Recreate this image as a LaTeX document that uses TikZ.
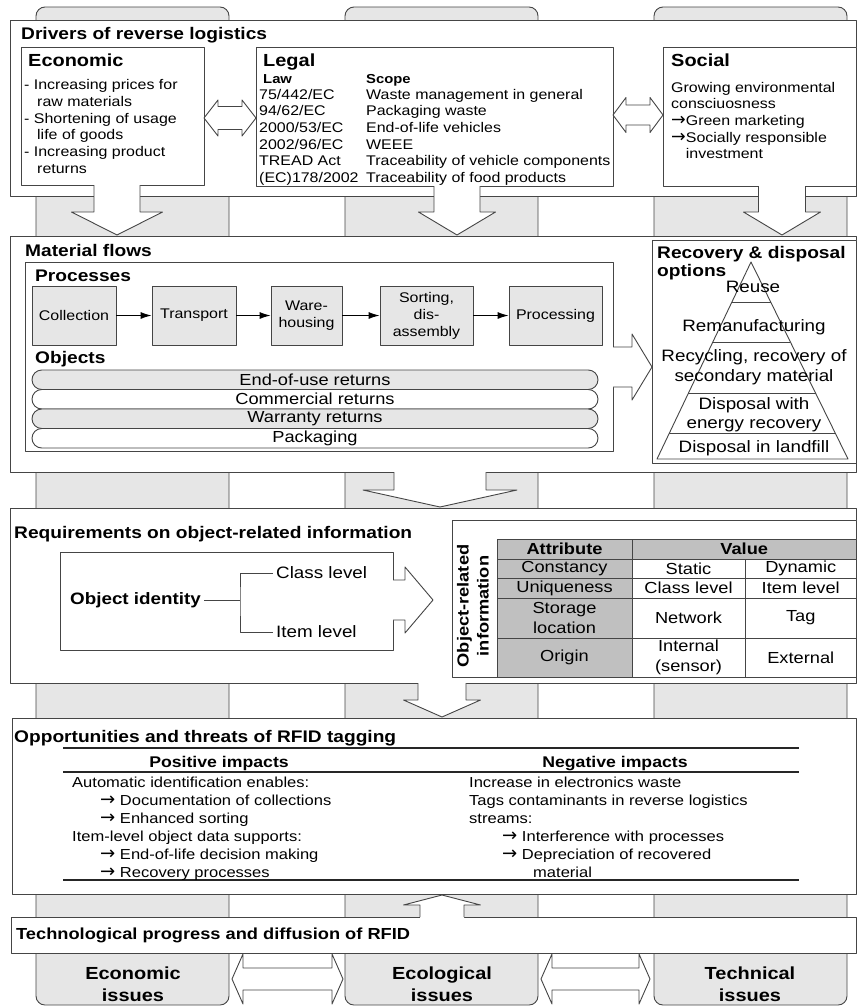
\documentclass[tikz,border=0pt]{standalone}
\usepackage{fontspec}
\setmainfont{Liberation Sans}[FakeStretch=1.14]
\newfontfamily\arrowfont{DejaVu Sans}[Scale=1.25]
\usetikzlibrary{arrows.meta,calc}

\definecolor{pillargray}{HTML}{E6E6E6}
\definecolor{cellgray}{HTML}{C0C0C0}
\definecolor{linegray}{HTML}{454545}

\newcommand\fsz[2]{\fontsize{#1}{#2}\selectfont}
\newcommand\rarr{{\arrowfont →}}

% hollow block arrow: tip, direction, length, shaft half, head half, head length
\newcommand\blockarrow[6]{%
  \begin{scope}[shift={(#1)}, rotate=#2, x=1pt, y=1pt]
    \fill[white] (-#3-1,-#4) -- (-#6,-#4) -- (-#6,-#5) -- (0,0)
      -- (-#6,#5) -- (-#6,#4) -- (-#3-1,#4) -- cycle;
    \draw[outline] (-#3,-#4) -- (-#6,-#4) -- (-#6,-#5) -- (0,0)
      -- (-#6,#5) -- (-#6,#4) -- (-#3,#4);
  \end{scope}}

% hollow double arrow: centre, half length, shaft half, head half, head length
\newcommand\twinarrow[5]{%
  \begin{scope}[shift={(#1)}, x=1pt, y=1pt]
    \filldraw[outline, fill=white] (-#2,0) -- (-#2+#5,#4) -- (-#2+#5,#3)
      -- (#2-#5,#3) -- (#2-#5,#4) -- (#2,0) -- (#2-#5,-#4) -- (#2-#5,-#3)
      -- (-#2+#5,-#3) -- (-#2+#5,-#4) -- cycle;
  \end{scope}}

\begin{document}
\begin{tikzpicture}[x=1pt, y=-1pt, line join=round,
  outline/.style={draw=linegray, line width=0.9pt},
  pillar/.style={outline, fill=pillargray, rounded corners=9pt},
  frame/.style={outline, fill=white, anchor=north west, inner sep=0pt, outer sep=0pt},
  title/.style={anchor=base west, inner sep=0pt, font=\bfseries\fsz{16.8}{19}},
  head/.style={anchor=base west, inner sep=0pt, font=\bfseries\fsz{17.5}{20}},
  txt/.style={anchor=north west, inner sep=0pt, font=\fsz{14}{16.7}},
  proc/.style={outline, fill=pillargray, minimum height=59pt, inner sep=0pt, align=center, font=\fsz{14}{17}},
  flow/.style={outline, draw=black, -{Latex[length=11pt,width=7pt]}},
  bar/.style={outline, rounded corners=9.75pt, minimum width=566pt, minimum height=19.5pt, inner sep=0pt, font=\fsz{16}{19}},
  pyr/.style={align=center, inner sep=0pt, font=\fsz{16.5}{19.5}},
  lvl/.style={anchor=west, inner xsep=3pt, inner ysep=0pt, font=\fsz{16.5}{19}},
  cell/.style={align=center, inner sep=0pt, font=\fsz{16}{20}},
  rule/.style={draw=black!85, line width=1.4pt},
  issue/.style={align=center, inner sep=0pt, font=\bfseries\fsz{17.5}{22}}
  ]
  \useasboundingbox (0,0) rectangle (858,1007);

  % pillars behind the layers
  \foreach \x in {36,345,654}
    \draw[pillar] (\x,1005) rectangle ++(193,-998);

  % layers
  \node[frame, minimum width=845.8pt, minimum height=175.3pt] (drivers) at (10.7,20.7) {};
  \node[frame, minimum width=845.8pt, minimum height=236pt] (matflow) at (10.7,236) {};
  \node[frame, minimum width=845.8pt, minimum height=175pt] (req) at (10.7,508) {};
  \node[frame, minimum width=843.8pt, minimum height=176pt] (opp) at (12.7,718) {};
  \node[frame, minimum width=845.5pt, minimum height=36pt] (tech) at (11,917) {};

  % drivers
  \node[title] (drvtitle) at (21,39) {Drivers of reverse logistics};
  \node[frame, minimum width=182.3pt, minimum height=138pt] (econ) at (21.7,47) {};
  \node[frame, minimum width=357pt, minimum height=139pt] (legal) at (256,47) {};
  \node[frame, minimum width=193.5pt, minimum height=139pt] (social) at (663,47) {};
  \node[head] (econhead) at (28,66) {Economic};
  \node[head] (legalhead) at (263,66) {Legal};
  \node[head] (socialhead) at (671,66) {Social};
  \node[txt] (econtxt) at (24,77.8) {\begin{tabular}{@{}l@{}}
    - Increasing prices for\\\hspace*{13pt}raw materials\\
    - Shortening of usage\\\hspace*{13pt}life of goods\\
    - Increasing product\\\hspace*{13pt}returns\end{tabular}};
  \node[anchor=base west, inner sep=0pt, font=\bfseries\fsz{13}{15}] (lawhead) at (263,83.7) {Law};
  \node[anchor=base west, inner sep=0pt, font=\bfseries\fsz{13}{15}] (scopehead) at (366,83.7) {Scope};
  \node[txt] (laws) at (259,87.3) {\begin{tabular}{@{}p{107pt}@{}l@{}}
    75/442/EC & Waste management in general\\
    94/62/EC & Packaging waste\\
    2000/53/EC & End-of-life vehicles\\
    2002/96/EC & WEEE\\
    TREAD Act & Traceability of vehicle components\\
    (EC)178/2002 & Traceability of food products\end{tabular}};
  \node[txt] (socialtxt) at (671,80.3) {\begin{tabular}{@{}l@{}}
    Growing environmental\\consciuosness\\
    \rarr Green marketing\\\rarr Socially responsible\\
    \phantom{\rarr}investment\end{tabular}};

  % material flows
  \node[title] (mattitle) at (25,256) {Material flows};
  \node[frame, minimum width=588pt, minimum height=189pt] (inner) at (25,262) {};
  \node[head, font=\bfseries\fsz{16.8}{19}] (prochead) at (35,281) {Processes};
  \node[proc, minimum width=84pt] (coll) at (74,315.5) {Collection};
  \node[proc, minimum width=84pt] (trans) at (194,315.5) {Transport};
  \node[proc, minimum width=71pt] (ware) at (306.5,315.5) {Ware-\\housing};
  \node[proc, minimum width=93pt] (sort) at (426.5,315.5) {Sorting,\\dis-\\assembly};
  \node[proc, minimum width=93pt] (procg) at (555.5,315.5) {Processing};
  \foreach \a/\b in {coll/trans, trans/ware, ware/sort, sort/procg}
    \draw[flow] (\a) -- (\b);
  \node[head, font=\bfseries\fsz{16.8}{19}] (objhead) at (35,363) {Objects};
  \foreach \t/\f [count=\i] in {End-of-use returns/pillargray, Commercial returns/white,
      Warranty returns/pillargray, Packaging/white}
    \node[bar, fill=\f] (obj\i) at (315,360.25+19.5*\i) {\t};

  % recovery and disposal options
  \node[frame, minimum width=204.5pt, minimum height=223pt] (recov) at (652,240) {};
  \node[anchor=north west, inner sep=0pt, font=\bfseries\fsz{16.8}{18}] (recovtitle) at (657,245.5)
    {\begin{tabular}{@{}l@{}}Recovery \& disposal\\options\end{tabular}};
  \coordinate (apex) at (751,262);
  \coordinate (bl) at (657,459);
  \coordinate (br) at (848,459);
  \draw[outline] (apex) -- (bl) -- (br) -- cycle;
  \foreach \t in {0.203,0.406,0.665,0.868}
    \draw[outline] ($(apex)!\t!(bl)$) -- ($(apex)!\t!(br)$);
  \node[pyr] (reuse) at (753,287) {Reuse};
  \node[pyr] (reman) at (754,327) {Remanufacturing};
  \node[pyr] (recyc) at (754,367) {Recycling, recovery of\\secondary material};
  \node[pyr] (energy) at (754,414.5) {Disposal with\\energy recovery};
  \node[pyr] (landfill) at (754,448) {Disposal in landfill};

  % requirements on object-related information
  \node[title] (reqtitle) at (14,538) {Requirements on object-related information};
  \node[frame, minimum width=333pt, minimum height=98pt] (ident) at (60,552) {};
  \node[lvl, font=\bfseries\fsz{16.5}{19}] (identity) at (67,600) {Object identity};
  \node[lvl] (classlvl) at (273,573) {Class level};
  \node[lvl] (itemlvl) at (273,632) {Item level};
  \coordinate (fork) at (240,600);
  \draw[outline] (identity.east) -- (fork);
  \draw[outline] (classlvl.west) -| (fork) |- (itemlvl.west);
  \node[frame, minimum width=404.5pt, minimum height=157pt] (info) at (452,520) {};
  \node[rotate=90, align=center, inner sep=0pt, font=\bfseries\fsz{16}{20}] (infolabel) at (473,606)
    {Object-related\\information};
  \fill[cellgray] (497,539) rectangle (632,677);
  \fill[cellgray] (632,539) rectangle (856.5,559);
  \draw[outline] (497,539) rectangle (856.5,677);
  \foreach \y in {559,578,598,638}
    \draw[outline] (497,\y) -- (856.5,\y);
  \draw[outline] (632,539) -- (632,677);
  \draw[outline] (745,559) -- (745,677);
  \node[cell, font=\bfseries\fsz{16}{20}] (attrhead) at (564.5,549) {Attribute};
  \node[cell, font=\bfseries\fsz{16}{20}] (valhead) at (744.25,549) {Value};
  \foreach \a/\b/\c/\y [count=\i] in {Constancy/Static/Dynamic/568.5,
      Uniqueness/Class level/Item level/588,
      {Storage\\location}/Network/Tag/618,
      Origin/{Internal\\(sensor)}/External/657.5}{
    \node[cell] (attr\i) at (564.5,\y) {\a};
    \node[cell] (stat\i) at (688.5,\y) {\b};
    \node[cell] (dyn\i) at (800.75,\y) {\c};
  }

  % opportunities and threats
  \node[title] (opptitle) at (14,742) {Opportunities and threats of RFID tagging};
  \draw[rule] (63,748) -- (799,748);
  \draw[rule, line width=1.1pt] (63,772) -- (799,772);
  \draw[rule] (63,880) -- (799,880);
  \node[anchor=base, inner sep=0pt, font=\bfseries\fsz{15.5}{18}] (poshead) at (219,767.5) {Positive impacts};
  \node[anchor=base, inner sep=0pt, font=\bfseries\fsz{15.5}{18}] (neghead) at (615,767.5) {Negative impacts};
  \node[txt, font=\fsz{14.5}{18}] (postxt) at (72,774.7) {\begin{tabular}{@{}l@{}}
    Automatic identification enables:\\
    \hspace*{28pt}\rarr{} Documentation of collections\\
    \hspace*{28pt}\rarr{} Enhanced sorting\\
    Item-level object data supports:\\
    \hspace*{28pt}\rarr{} End-of-life decision making\\
    \hspace*{28pt}\rarr{} Recovery processes\end{tabular}};
  \node[txt, font=\fsz{14.5}{18}] (negtxt) at (469,774.7) {\begin{tabular}{@{}l@{}}
    Increase in electronics waste\\
    Tags contaminants in reverse logistics\\
    streams:\\
    \hspace*{33pt}\rarr{} Interference with processes\\
    \hspace*{33pt}\rarr{} Depreciation of recovered\\
    \hspace*{64pt}material\end{tabular}};

  % technological progress
  \node[title, font=\bfseries\fsz{16}{19}] (techtitle) at (16,939) {Technological progress and diffusion of RFID};
  \node[issue] (ecoiss) at (133,984) {Economic\\issues};
  \node[issue] (ecliss) at (442,984) {Ecological\\issues};
  \node[issue] (teciss) at (750,984) {Technical\\issues};

  % block arrows between the layers
  \coordinate (econtip) at (117,235);
  \coordinate (legaltip) at (457,235);
  \coordinate (socialtip) at (782,235);
  \coordinate (recovtip) at (652,367);
  \coordinate (infotip) at (433,600);
  \coordinate (reqtip) at (440,507);
  \coordinate (opptip) at (442,717);
  \coordinate (techtip) at (442,895);
  \blockarrow{econtip}{-90}{50}{23}{45.5}{23}
  \blockarrow{legaltip}{-90}{49}{23}{38.5}{23}
  \blockarrow{socialtip}{-90}{49}{23.5}{38.5}{23}
  \blockarrow{recovtip}{0}{39}{20}{33}{20}
  \blockarrow{infotip}{0}{40}{20}{33}{28}
  \blockarrow{reqtip}{-90}{35}{46}{77}{17}
  \blockarrow{opptip}{-90}{34}{24}{38.5}{17}
  \blockarrow{techtip}{90}{22}{22}{38.5}{10}
  \twinarrow{230,118}{26}{11.5}{18}{14}
  \twinarrow{638,115}{25}{10}{17.5}{13}
  \twinarrow{287.5,979}{55.5}{11}{25}{11}
  \twinarrow{595.5,979}{54.5}{11}{25}{11}
\end{tikzpicture}
\end{document}
